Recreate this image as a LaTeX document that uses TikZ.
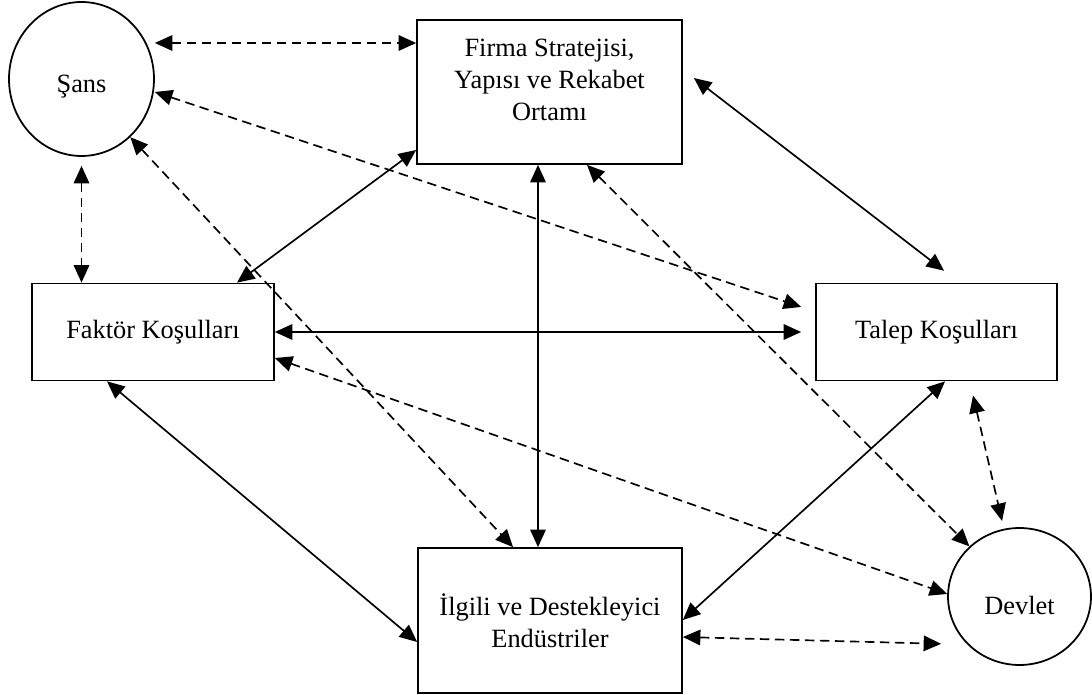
\documentclass[tikz,border=0pt]{standalone}
\usepackage{fontspec}
\setmainfont{Liberation Serif}
\usetikzlibrary{arrows.meta, shapes.geometric}

\begin{document}
\begin{tikzpicture}[
    x=0.02cm, y=-0.02cm,
    >={Triangle[length=3.5mm, width=3.1mm]},
    every node/.style={font=\fontsize{15pt}{18.2pt}\selectfont},
    box/.style={rectangle, draw, line width=1pt, align=center, inner sep=0pt},
    outer/.style={ellipse, draw, line width=1pt, inner sep=0pt},
    edgeMain/.style={<->, line width=0.95pt},
    edgeSide/.style={<->, line width=0.95pt, dash pattern=on 1.9mm off 1.1mm}
]
% Рамка
\useasboundingbox (0,0) rectangle (1092,695);

% Внешние факторы
\node[outer, minimum width=2.9cm, minimum height=3.08cm, text height=5.4mm, text depth=0pt] (sans) at (81.5,79) {Şans};
\node[outer, minimum width=2.86cm, minimum height=2.74cm, text height=7.2mm, text depth=0pt] (devlet) at (1019.5,596.5) {Devlet};

% Основные факторы
\node[box, minimum width=5.3cm, minimum height=2.88cm] (firma) at (549.5,92) {};
\node[align=center] (firmaText) at (549.5,80) {Firma Stratejisi,\\Yapısı ve Rekabet\\Ortamı};
\node[box, minimum width=4.84cm, minimum height=1.94cm] (faktor) at (153,332) {Faktör Koşulları};
\node[box, minimum width=4.82cm, minimum height=1.94cm] (talep) at (936.5,332) {Talep Koşulları};
\node[box, minimum width=5.28cm, minimum height=2.9cm] (ilgili) at (550,620.5) {İlgili ve Destekleyici\\Endüstriler};

% Сплошные связи
\draw[edgeMain] (237,0 |- faktor.north) -- (firma.west |- 0,150);
\draw[edgeMain] (538,0 |- firma.south) -- (538,0 |- ilgili.north);
\draw[edgeMain, shorten <=2.8mm, shorten >=3.9mm] (firma.east |- 0,69.5) -- (959.5,0 |- talep.north);
\draw[edgeMain, shorten >=2.8mm] (faktor.east) -- (talep.west);
\draw[edgeMain] (107,0 |- faktor.south) -- (ilgili.west |- 0,642);
\draw[edgeMain] (945,0 |- talep.south) -- (ilgili.east |- 0,620);

% Пунктирные связи
\draw[edgeSide] (sans.east |- 0,43) -- (firma.west |- 0,43);
\draw[edgeSide, shorten >=2.95mm] (sans.east |- 0,92) -- (talep.west |- 0,311.6);
\draw[edgeSide] (sans.-50) -- (513,0 |- ilgili.north);
\draw[edgeSide, shorten <=1.8mm] (sans.south) -- (sans.south |- faktor.north);
\draw[edgeSide] (587,0 |- firma.south) -- (devlet.135);
\draw[edgeSide] (faktor.east |- 0,358) -- (devlet.178);
\draw[edgeSide, shorten <=2.9mm, shorten >=1.6mm] (969.8,0 |- talep.south) -- (devlet.103);
\draw[edgeSide, shorten >=1.2mm] (ilgili.east |- 0,637) -- (devlet.west |- 0,644);
\end{tikzpicture}
\end{document}
